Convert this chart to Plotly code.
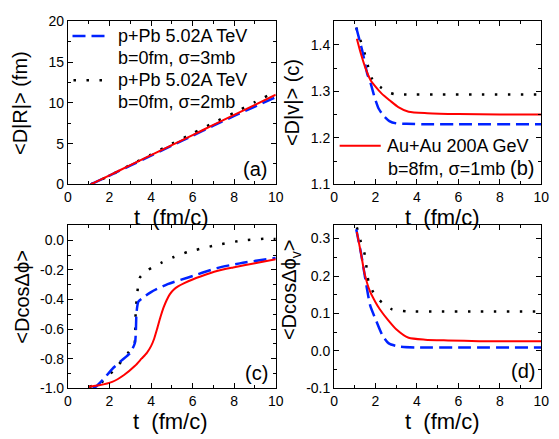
import plotly.graph_objects as go
from plotly.subplots import make_subplots

W, H = 559, 439

# ---------------- data ----------------
# panel (a): <D|R|> (fm)
t_a = [1.1, 2, 3, 4, 5, 6, 7, 8, 9, 10]
red_a = [0, 1.1, 2.35, 3.58, 4.82, 6.05, 7.3, 8.53, 9.77, 11.0]
blue_a = [0, 1.08, 2.3, 3.52, 4.75, 5.97, 7.2, 8.4, 9.55, 10.7]
black_a = [0, 1.05, 2.38, 3.65, 4.98, 6.25, 7.55, 8.8, 10.1, 11.4]

# panel (b): <D|v|> (c)
t_b_red = [1.1, 1.3, 1.5, 1.75, 2.0, 2.3, 2.7, 3.1, 3.6, 4.5, 6, 8, 10]
red_b = [1.413, 1.38, 1.352, 1.325, 1.31, 1.295, 1.28, 1.266, 1.256, 1.253, 1.251, 1.25, 1.25]
t_b_blue = [1.07, 1.23, 1.4, 1.6, 1.76, 1.97, 2.15, 2.36, 2.67, 3.0, 3.5, 4.5, 6, 10]
blue_b = [1.437, 1.41, 1.38, 1.338, 1.318, 1.285, 1.263, 1.249, 1.236, 1.231, 1.23, 1.229, 1.229, 1.229]
t_b_black = [1.07, 1.3, 1.5, 1.65, 1.83, 2.05, 2.3, 2.6, 2.9, 3.5, 5, 7, 10]
black_b = [1.437, 1.406, 1.378, 1.352, 1.327, 1.315, 1.307, 1.298, 1.294, 1.293, 1.293, 1.293, 1.293]

# panel (c): <Dcos dphi>
t_c_red = [1.0, 1.5, 2.13, 2.7, 3.23, 3.54, 3.8, 4.0, 4.15, 4.3, 4.45, 4.6, 4.75, 4.9,
           5.1, 5.3, 5.6, 6.0, 6.38, 7.17, 7.95, 9.0, 10]
red_c = [-0.99, -0.98, -0.957, -0.91, -0.848, -0.80, -0.76, -0.715, -0.665, -0.595, -0.52,
         -0.455, -0.405, -0.365, -0.333, -0.312, -0.29, -0.265, -0.245, -0.208, -0.184, -0.155, -0.128]
t_c_blue = [1.2, 1.34, 1.7, 2.13, 2.6, 3.0, 3.23, 3.3, 3.39, 3.6, 4.0, 4.8, 5.75, 7.17, 8.27, 10]
blue_c = [-1.0, -0.99, -0.94, -0.87, -0.81, -0.76, -0.69, -0.49, -0.415, -0.39, -0.35, -0.296, -0.253, -0.188, -0.156, -0.119]
t_c_black = [1.02, 1.65, 2.44, 2.9, 3.2, 3.23, 3.26, 3.31, 3.46, 3.86, 4.49, 5.1, 5.75, 7.0, 8.27, 9.5, 10]
black_c = [-0.99, -0.957, -0.84, -0.76, -0.70, -0.675, -0.49, -0.40, -0.253, -0.2, -0.152, -0.113, -0.08, -0.037, -0.004, 0.011, 0.008]

# panel (d): <Dcos dphi_v>
t_d_red = [1.1, 1.3, 1.48, 1.74, 2.0, 2.2, 2.6, 3.0, 3.6, 4.4, 5.5, 7, 10]
red_d = [0.318, 0.26, 0.205, 0.158, 0.13, 0.112, 0.083, 0.058, 0.035, 0.03, 0.028, 0.026, 0.026]
t_d_blue = [1.07, 1.32, 1.56, 1.75, 2.0, 2.33, 2.64, 3.1, 4, 6, 10]
blue_d = [0.325, 0.255, 0.175, 0.12, 0.085, 0.042, 0.02, 0.012, 0.009, 0.009, 0.009]
t_d_black = [1.1, 1.29, 1.49, 1.57, 1.66, 1.85, 2.2, 2.8, 3.5, 5, 7, 10]
black_d = [0.33, 0.292, 0.256, 0.222, 0.186, 0.161, 0.135, 0.111, 0.106, 0.105, 0.105, 0.105]

x_ticks = [0, 2, 4, 6, 8, 10]
y_ticks_a = [0, 5, 10, 15, 20]
y_ticks_b = [1.1, 1.2, 1.3, 1.4]
y_ticks_c = [-1.0, -0.8, -0.6, -0.4, -0.2, 0.0]
y_ticks_d = [-0.1, 0.0, 0.1, 0.2, 0.3]

legend_blue = ["p+Pb 5.02A TeV", "b=0fm, σ=3mb"]
legend_black = ["p+Pb 5.02A TeV", "b=0fm, σ=2mb"]
legend_red = ["Au+Au 200A GeV", "b=8fm, σ=1mb"]

# ---------------- styles ----------------
RED = "#ff0000"
BLUE = "#0022ff"
BLACK = "#000000"
FONT = "Liberation Sans, Arial, sans-serif"
red_line = dict(color=RED, width=2, shape="spline", smoothing=0.6)
blue_line = dict(color=BLUE, width=2.5, dash="13px,6px", shape="spline", smoothing=0.6)
black_line = dict(color=BLACK, width=2.5, dash="2.5px,10.5px", shape="spline", smoothing=0.6)

fig = make_subplots(rows=2, cols=2)

def add(row, col, t, v, line):
    fig.add_trace(go.Scatter(x=t, y=v, mode="lines", line=line, showlegend=False,
                             hoverinfo="skip"), row=row, col=col)

add(1, 1, t_a, black_a, black_line)
add(1, 1, t_a, blue_a, blue_line)
add(1, 1, t_a, red_a, red_line)
add(1, 2, t_b_black, black_b, black_line)
add(1, 2, t_b_blue, blue_b, blue_line)
add(1, 2, t_b_red, red_b, red_line)
add(2, 1, t_c_black, black_c, black_line)
add(2, 1, t_c_blue, blue_c, blue_line)
add(2, 1, t_c_red, red_c, red_line)
add(2, 2, t_d_black, black_d, black_line)
add(2, 2, t_d_blue, blue_d, blue_line)
add(2, 2, t_d_red, red_d, red_line)

def px(x):
    return x / W

def py(y):
    return 1 - y / H

dom_x = {1: [px(65.3), px(277.7)], 2: [px(337.3), px(549)]}
dom_y = {1: [py(183), py(14)], 2: [py(394.7), py(225.7)]}

def fmt(v, nd):
    return f"{v:.{nd}f}"

def axis_common(minor_dtick, minor_tick0):
    return dict(showline=True, linecolor="black", linewidth=1, mirror="ticks",
                ticks="inside", ticklen=5, tickwidth=1, tickcolor="black",
                showgrid=False, zeroline=False,
                tickfont=dict(family=FONT, size=14, color="black"),
                minor=dict(ticks="inside", ticklen=3, tickwidth=1, tickcolor="black",
                           dtick=minor_dtick, tick0=minor_tick0, showgrid=False))

yspecs = {
    (1, 1): ([0, 20], y_ticks_a, 0, 2.5, 0),
    (1, 2): ([1.1, 1.45], y_ticks_b, 1, 0.05, 1.1),
    (2, 1): ([-1.0, 0.1], y_ticks_c, 1, 0.1, 0),
    (2, 2): ([-0.1, 0.335], y_ticks_d, 1, 0.05, 0),
}

for (r, c), (yr, yt, nd, mdt, mt0) in yspecs.items():
    xa = axis_common(1, 0)
    xa.update(range=[0, 10], tickmode="array", tickvals=x_ticks,
              ticktext=[str(v) for v in x_ticks], domain=dom_x[c])
    ya = axis_common(mdt, mt0)
    ya.update(range=yr, tickmode="array", tickvals=yt,
              ticktext=[fmt(v, nd) for v in yt], domain=dom_y[r])
    fig.update_xaxes(xa, row=r, col=c)
    fig.update_yaxes(ya, row=r, col=c)

ann = []

def text(x, y, s, size, angle=0, xanchor="center"):
    ann.append(dict(x=px(x), y=py(y), xref="paper", yref="paper", text=s,
                    showarrow=False, textangle=angle, xanchor=xanchor, yanchor="middle",
                    font=dict(family=FONT, size=size, color="black")))

# axis titles
XT = "t&nbsp; (fm/c)"
text(171, 217, XT, 22)
text(448, 217, XT, 22)
text(170, 429, XT, 22)
text(448, 429, XT, 22)
text(17, 99, "&lt;D|R|&gt; (fm)", 20, -90)
text(295, 98, "&lt;D|v|&gt; (c)", 20, -90)
text(18, 300, "&lt;DcosΔϕ&gt;", 20, -90)
text(293, 292, "&lt;DcosΔϕ<sub>v</sub>&gt;", 20, -90)

# panel labels
text(257, 167, "(a)", 20)
text(529, 166, "(b)", 20)
text(258, 379, "(c)", 20)
text(530, 377, "(d)", 20)

# legends
LSZ = 18
text(114, 29, legend_blue[0], LSZ, xanchor="left")
text(114, 52, legend_blue[1], LSZ, xanchor="left")
text(114, 75, legend_black[0], LSZ, xanchor="left")
text(114, 98, legend_black[1], LSZ, xanchor="left")
text(389, 143, legend_red[0], LSZ, xanchor="left")
text(390, 167, legend_red[1], LSZ, xanchor="left")

shapes = [
    dict(type="line", xref="paper", yref="paper", x0=px(70), x1=px(107), y0=py(29), y1=py(29),
         line=dict(color=BLUE, width=2.5, dash="13px,6px")),
    dict(type="line", xref="paper", yref="paper", x0=px(71), x1=px(101), y0=py(75), y1=py(75),
         line=dict(color=BLACK, width=2.5, dash="2.5px,10.5px")),
    dict(type="line", xref="paper", yref="paper", x0=px(343), x1=px(385), y0=py(143), y1=py(143),
         line=dict(color=RED, width=2)),
]

fig.update_layout(width=W, height=H, margin=dict(l=0, r=0, t=0, b=0),
                  paper_bgcolor="white", plot_bgcolor="white", showlegend=False,
                  annotations=ann, shapes=shapes,
                  font=dict(family=FONT, color="black"))

fig.write_html("out.html", config={"displayModeBar": False},
               post_script="document.body.style.margin='0px';")
